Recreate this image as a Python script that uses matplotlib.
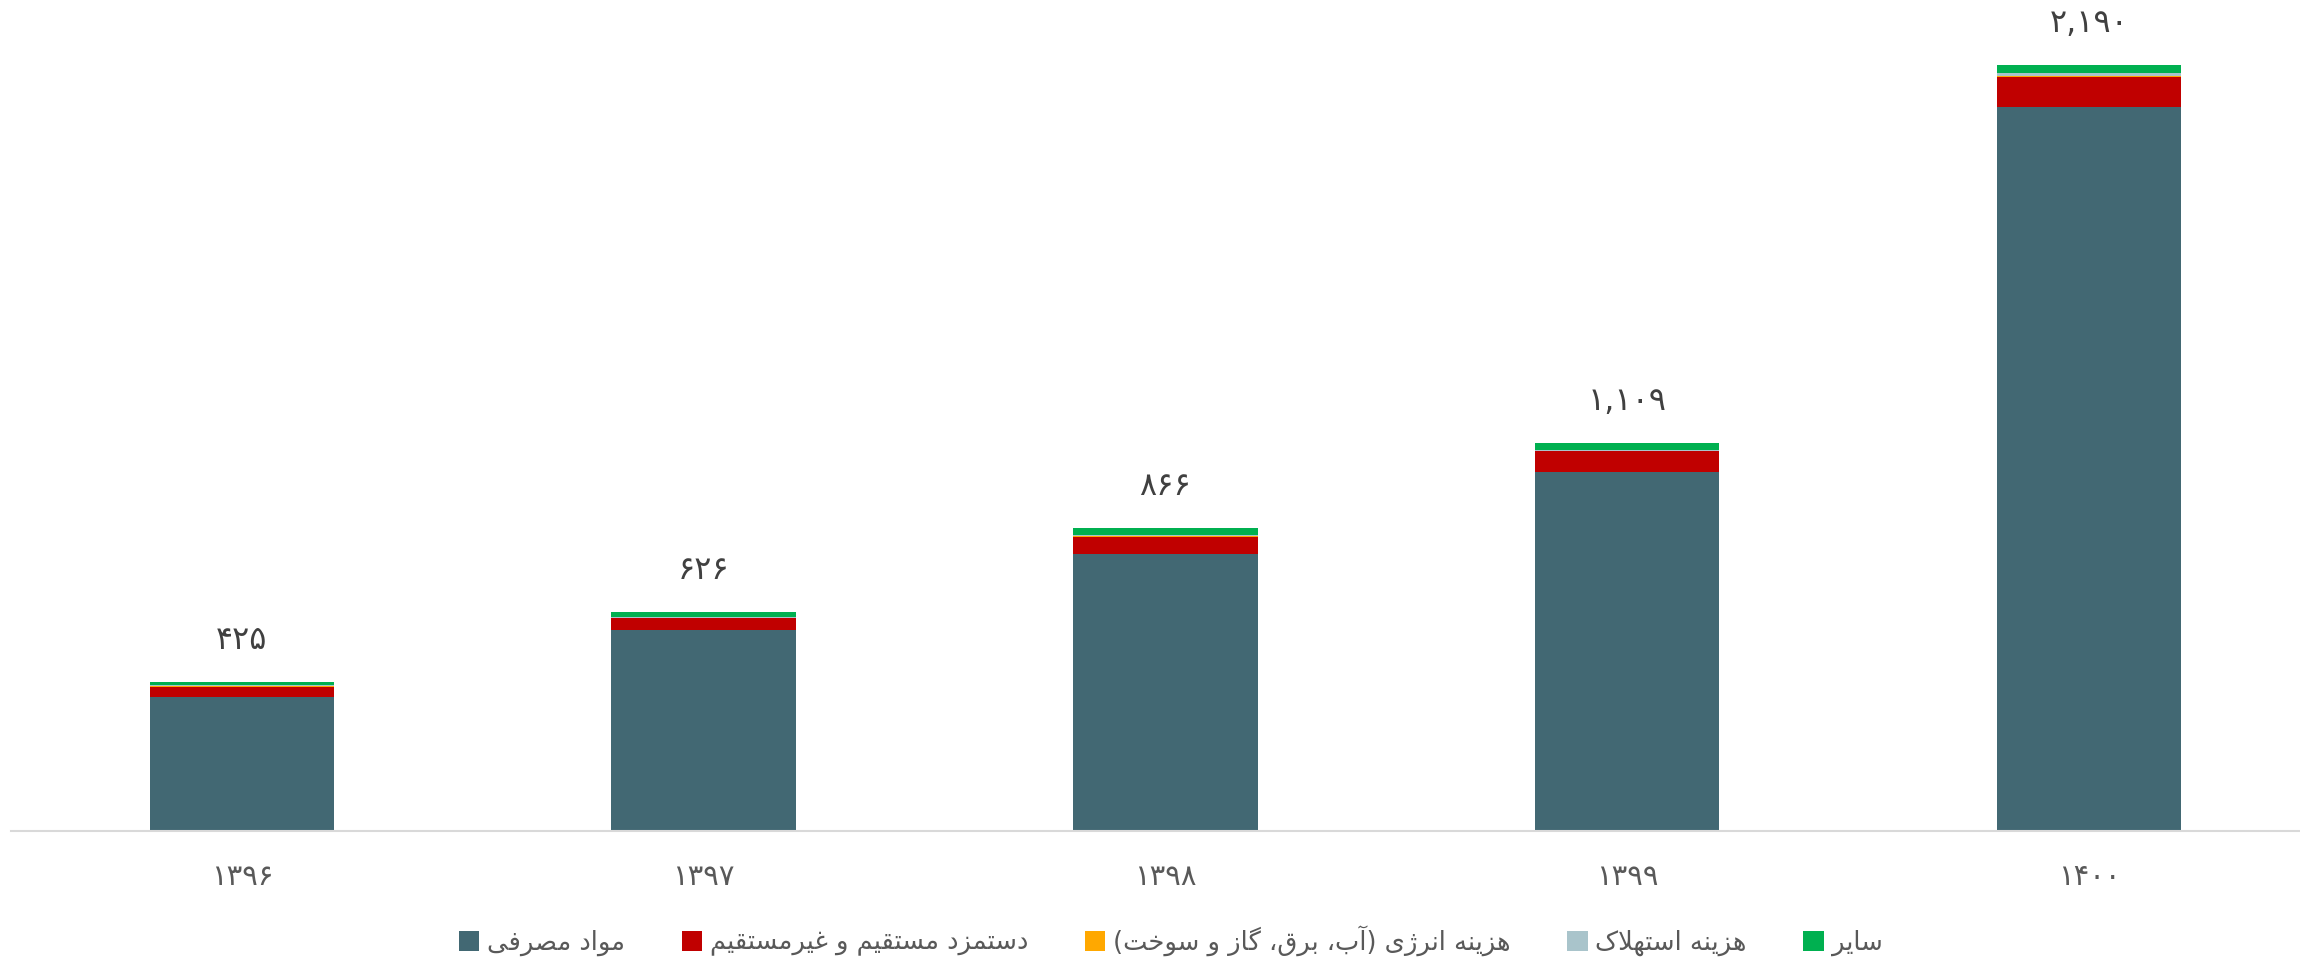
import matplotlib
matplotlib.use('Agg')
import matplotlib.pyplot as plt
from matplotlib.patches import Patch

# ---------------- data ----------------
years = ['۱۳۹۶', '۱۳۹۷', '۱۳۹۸', '۱۳۹۹', '۱۴۰۰']
materials = [383, 574, 792, 1028, 2071]
wages = [30, 34, 49, 58, 85]
energy = [1, 2, 2, 2, 3]
depreciation = [4, 3, 3, 3, 9]
other = [7, 13, 20, 18, 22]
totals = [425, 626, 866, 1109, 2190]
series_names = ['مواد مصرفی', 'دستمزد مستقیم و غیرمستقیم',
                'هزینه انرژی (آب، برق، گاز و سوخت)', 'هزینه استهلاک', 'سایر']
colors = ['#426873', '#C00000', '#FFA800', '#A9C4CB', '#00B050']

# ---------------- minimal Persian shaping ----------------
FORMS = {
    '\u0627': ('\uFE8D', '\uFE8E', None, None),
    '\u0622': ('\uFE81', '\uFE82', None, None),
    '\u0628': ('\uFE8F', '\uFE90', '\uFE91', '\uFE92'),
    '\u062A': ('\uFE95', '\uFE96', '\uFE97', '\uFE98'),
    '\u062E': ('\uFEA5', '\uFEA6', '\uFEA7', '\uFEA8'),
    '\u062F': ('\uFEA9', '\uFEAA', None, None),
    '\u0631': ('\uFEAD', '\uFEAE', None, None),
    '\u0632': ('\uFEAF', '\uFEB0', None, None),
    '\u0698': ('\uFB8A', '\uFB8B', None, None),
    '\u0633': ('\uFEB1', '\uFEB2', '\uFEB3', '\uFEB4'),
    '\u0635': ('\uFEB9', '\uFEBA', '\uFEBB', '\uFEBC'),
    '\u063A': ('\uFECD', '\uFECE', '\uFECF', '\uFED0'),
    '\u0641': ('\uFED1', '\uFED2', '\uFED3', '\uFED4'),
    '\u0642': ('\uFED5', '\uFED6', '\uFED7', '\uFED8'),
    '\u06A9': ('\uFB8E', '\uFB8F', '\uFB90', '\uFB91'),
    '\u06AF': ('\uFB92', '\uFB93', '\uFB94', '\uFB95'),
    '\u0644': ('\uFEDD', '\uFEDE', '\uFEDF', '\uFEE0'),
    '\u0645': ('\uFEE1', '\uFEE2', '\uFEE3', '\uFEE4'),
    '\u0646': ('\uFEE5', '\uFEE6', '\uFEE7', '\uFEE8'),
    '\u0647': ('\uFEE9', '\uFEEA', '\uFEEB', '\uFEEC'),
    '\u0648': ('\uFEED', '\uFEEE', None, None),
    '\u06CC': ('\uFBFC', '\uFBFD', '\uFBFE', '\uFBFF'),
}
LAM_ALEF = {'\u0627': ('\uFEFB', '\uFEFC'), '\u0622': ('\uFEF5', '\uFEF6')}
MIRROR = {'(': ')', ')': '('}


def shape(text):
    chars = list(text)
    n = len(chars)

    def dual(c):
        return c in FORMS and FORMS[c][2] is not None

    res = []
    i = 0
    while i < n:
        c = chars[i]
        prev = chars[i - 1] if i > 0 else None
        can_prev = prev is not None and dual(prev) and c in FORMS
        if c == '\u0644' and i + 1 < n and chars[i + 1] in LAM_ALEF:
            lig = LAM_ALEF[chars[i + 1]]
            res.append(lig[1] if can_prev else lig[0])
            i += 2
            continue
        nxt = chars[i + 1] if i + 1 < n else None
        can_next = dual(c) and nxt is not None and nxt in FORMS
        if c in FORMS:
            iso, fin, ini, med = FORMS[c]
            if can_prev and can_next:
                res.append(med)
            elif can_prev:
                res.append(fin)
            elif can_next:
                res.append(ini)
            else:
                res.append(iso)
        else:
            res.append(c)
        i += 1
    return ''.join(MIRROR.get(ch, ch) for ch in reversed(res))


PERSIAN_DIGITS = str.maketrans('0123456789', '۰۱۲۳۴۵۶۷۸۹')


def fa_num(v):
    return f'{v:,}'.translate(PERSIAN_DIGITS)


# ---------------- figure ----------------
plt.rcParams['font.family'] = ['DejaVu Sans']

fig = plt.figure(figsize=(23, 9.59), dpi=100)
W, H = 2300, 959
ax = fig.add_axes([11 / W, 128 / H, (W - 11) / W, (H - 128) / H])

x = list(range(len(years)))
series = [materials, wages, energy, depreciation, other]
bottom = [0] * len(years)
for vals, col in zip(series, colors):
    ax.bar(x, vals, width=0.4, bottom=bottom, color=col, edgecolor='none')
    bottom = [b + v for b, v in zip(bottom, vals)]

for xi, t in zip(x, totals):
    ax.annotate(fa_num(t), (xi, t), xytext=(0, 30), textcoords='offset points',
                ha='center', va='center', fontsize=23, color='#404040')

ax.set_xlim(-0.5, -0.5 + 2289 / 461.75)
ax.set_ylim(0, 2377)
ax.set_xticks(x)
ax.set_xticklabels(years, fontsize=21, color='#595959')
ax.tick_params(axis='x', length=0, pad=23)
ax.set_yticks([])
for s in ['left', 'right', 'top']:
    ax.spines[s].set_visible(False)
ax.spines['bottom'].set_color('#d9d9d9')
ax.spines['bottom'].set_linewidth(1.5)

handles = [Patch(facecolor=c, edgecolor='none') for c in colors]
fig.legend(handles, [shape(s) for s in series_names], loc='center',
           bbox_to_anchor=(0.509, 0.019), ncol=5, frameon=False,
           fontsize=18.5, labelcolor='#595959', handlelength=0.8,
           handleheight=0.8, handletextpad=0.3, columnspacing=2.2)

fig.savefig('out.png', dpi=100)
